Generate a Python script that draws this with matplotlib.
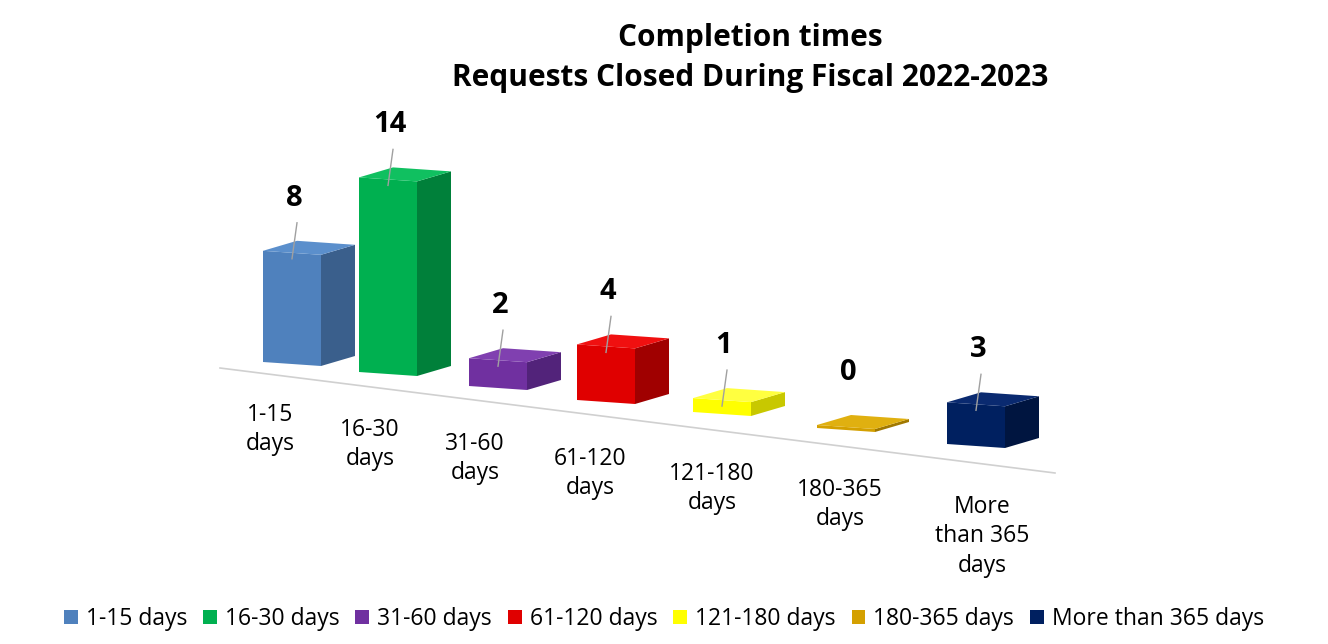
import matplotlib
matplotlib.use("Agg")
import matplotlib.pyplot as plt
from matplotlib.patches import Polygon, Patch

categories = ["1-15 days", "16-30 days", "31-60 days", "61-120 days", "121-180 days", "180-365 days", "More than 365 days"]
tick_labels = ["1-15\ndays", "16-30\ndays", "31-60\ndays", "61-120\ndays", "121-180\ndays", "180-365\ndays", "More\nthan 365\ndays"]
values = [8, 14, 2, 4, 1, 0, 3]
front_colors = ["#4f81bd", "#00b050", "#7030a0", "#e00000", "#ffff00", "#d4a000", "#002060"]
side_colors = ["#3a5f8c", "#00803a", "#52237a", "#a00000", "#c8c800", "#a07800", "#001540"]
top_colors = ["#5b8fcc", "#10c060", "#8040b0", "#f01010", "#ffff40", "#e0b010", "#0a2a70"]

# layout (pixel positions of bar fronts and labels)
bar_x = [292, 388, 498, 606, 722, 846, 976]
bar_y = [362, 372, 386, 400, 412, 428, 444]
lab_x = [270, 370, 475, 590, 712, 840, 982]
lab_y = [403, 418, 432, 447, 462, 478, 495]

plt.rcParams['font.family'] = ['Open Sans', 'DejaVu Sans']
fig = plt.figure(figsize=(13.28, 6.44), dpi=100)
ax = fig.add_axes([0, 0, 1, 1])
ax.set_xlim(0, 1328)
ax.set_ylim(644, 0)
ax.axis('off')

ax.plot([220, 1055], [368, 473], color="#d0d0d0", lw=1.2)

scale = 13.9
for i, v in enumerate(values):
    xc = bar_x[i]
    w = 58
    yb = bar_y[i]
    h = max(v * scale, 3)
    xl, xr = xc - w / 2, xc + w / 2
    yt = yb - h
    dx, dy = 34, -10
    ax.add_patch(Polygon([(xl, yb), (xr, yb + 4), (xr, yt + 4), (xl, yt)], closed=True, fc=front_colors[i], ec='none'))
    ax.add_patch(Polygon([(xr, yb + 4), (xr + dx, yb + 4 + dy), (xr + dx, yt + 4 + dy), (xr, yt + 4)], closed=True, fc=side_colors[i], ec='none'))
    ax.add_patch(Polygon([(xl, yt), (xr, yt + 4), (xr + dx, yt + 4 + dy), (xl + dx, yt + dy)], closed=True, fc=top_colors[i], ec='none'))
    lx = xc + 2
    ly = yt - 38
    if v > 0:
        ax.plot([xc, lx + 3], [yt + 8, ly + 10], color="#a0a0a0", lw=1)
    ax.text(lx, ly, str(v), ha='center', va='bottom', fontsize=21, fontweight='bold')
    ax.text(lab_x[i], lab_y[i], tick_labels[i], ha='center', va='top', fontsize=16.5, linespacing=1.3)

ax.text(750, 58, "Completion times\nRequests Closed During Fiscal 2022-2023", ha='center', va='center',
        fontsize=21.5, fontweight='bold', linespacing=1.45)

handles = [Patch(facecolor=c, edgecolor='none') for c in front_colors]
fig.legend(handles, categories, loc='lower center', bbox_to_anchor=(0.5, -0.012), ncol=7, frameon=False,
           fontsize=16.5, handlelength=0.6, handleheight=0.6, handletextpad=0.35, columnspacing=0.7)

fig.savefig("out.png", dpi=100)
